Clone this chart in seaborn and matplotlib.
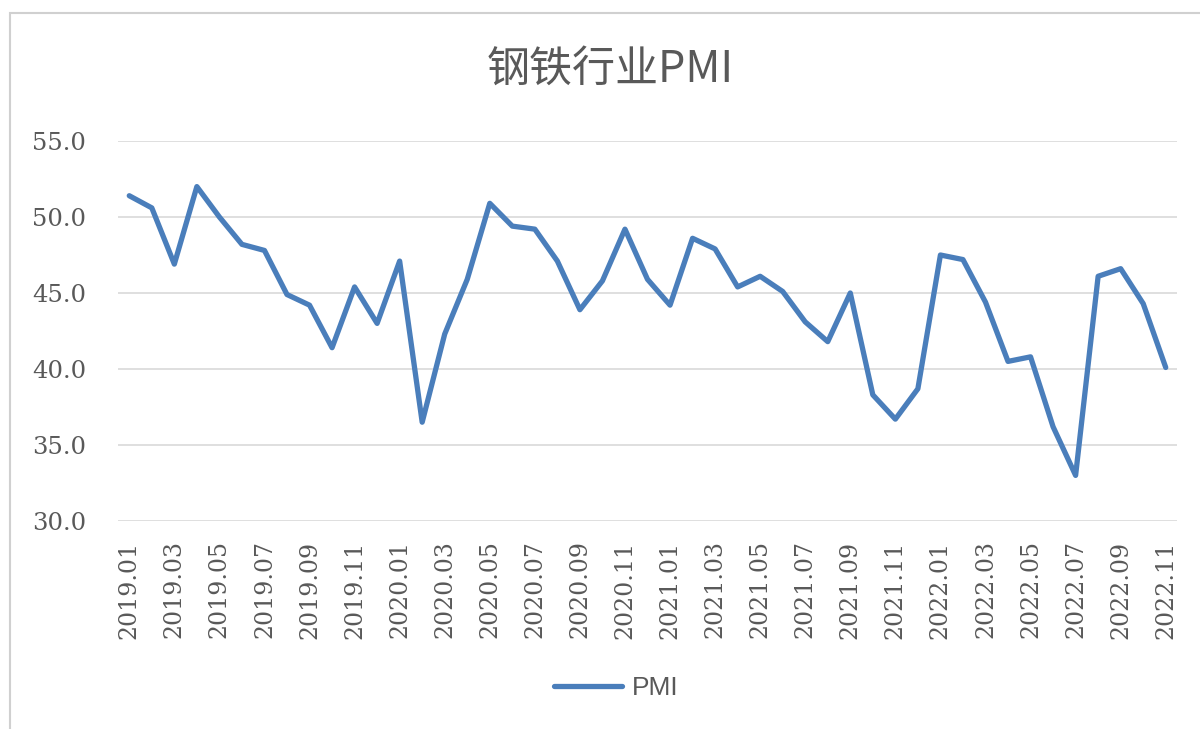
import pandas as pd
import numpy as np
import seaborn as sns
import matplotlib.pyplot as plt
from matplotlib.patches import Rectangle

# monthly steel PMI, 2019.01 - 2022.11
months = [f'{y}.{m:02d}' for y in range(2019, 2023) for m in range(1, 13)][:47]
pmi = [51.4, 50.6, 46.9, 52.0, 50.0, 48.2, 47.8, 44.9, 44.2, 41.4, 45.4, 43.0,
       47.1, 36.5, 42.3, 45.9, 50.9, 49.4, 49.2, 47.1, 43.9, 45.8, 49.2, 45.9,
       44.2, 48.6, 47.9, 45.4, 46.1, 45.1, 43.1, 41.8, 45.0, 38.3, 36.7, 38.7,
       47.5, 47.2, 44.4, 40.5, 40.8, 36.2, 33.0, 46.1, 46.6, 44.3, 40.1]
yticks = [30, 35, 40, 45, 50, 55]


def main():
	df = pd.DataFrame({'month': months, 'PMI': pmi})
	df['pos'] = np.arange(len(df))

	sns.set_style('white')
	plt.rcParams['font.family'] = ['Noto Sans CJK SC', 'DejaVu Sans']

	fig = plt.figure(figsize=(12, 7.29), dpi=100)
	# outer chart border like the excel frame
	fig.patches.append(Rectangle((10/1200, -0.01), 1.0, 1 - 13/729 + 0.01, transform=fig.transFigure,
								 fill=False, edgecolor='#d0d0d0', linewidth=1.5))
	ax = fig.add_axes([118/1200, 1 - 521/729, (1177-118)/1200, (521-141)/729])

	sns.lineplot(data=df, x='pos', y='PMI', ax=ax, color='#4a7ebb', linewidth=3.8, label='PMI')

	ax.set_xlim(-0.5, len(df) - 0.5)
	ax.set_ylim(30, 55)
	ax.set_yticks(yticks)
	ax.set_yticklabels([f'{v:.1f}' for v in yticks], family='DejaVu Serif', fontsize=17.5, color='#595959')
	ax.set_xticks(df['pos'][::2])
	ax.set_xticklabels(df['month'][::2], rotation=90, family='DejaVu Serif', fontsize=17, color='#595959')
	ax.tick_params(axis='y', length=0, pad=23)
	ax.tick_params(axis='x', length=0, pad=14)
	ax.grid(axis='y', color='#d9d9d9', linewidth=1.2)
	ax.set_axisbelow(True)
	for s in ax.spines.values():
		s.set_visible(False)
	ax.set_xlabel('')
	ax.set_ylabel('')

	fig.text(610/1200, 1 - 70/729, '钢铁行业PMI', ha='center', va='center', fontsize=31, color='#595959')

	leg = ax.legend(loc='center', bbox_to_anchor=(616/1200, 1 - 688/729), bbox_transform=fig.transFigure,
					frameon=False, fontsize=19, handlelength=2.6, handletextpad=0.35)
	for t in leg.get_texts():
		t.set_color('#595959')
		t.set_family(['Liberation Sans', 'DejaVu Sans'])

	fig.savefig('out.png', dpi=100)


if __name__ == '__main__':
	main()
